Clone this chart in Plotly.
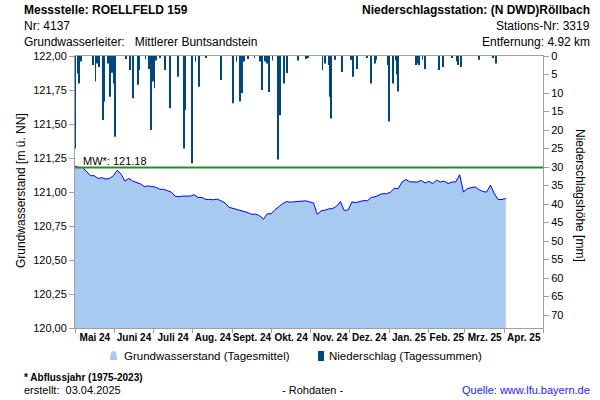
import pandas as pd
import plotly.graph_objects as go

# Grundwasserstand, 3-Tages-Werte ab 01.05.2024 [m ü. NN]
gw_start = "2024-05-01"
gw_level = [
    121.19, 121.18, 121.18, 121.15, 121.12, 121.12, 121.10, 121.105, 121.095, 121.10,
    121.12, 121.16, 121.13, 121.08, 121.10, 121.08, 121.07, 121.06, 121.04, 121.045,
    121.04, 121.035, 121.02, 121.02, 121.01, 121.00, 120.97, 120.965, 120.97, 120.97,
    120.97, 120.98, 120.96, 120.96, 120.945, 120.945, 120.943, 120.948, 120.935, 120.92,
    120.888, 120.88, 120.868, 120.86, 120.857, 120.848, 120.835, 120.838, 120.825, 120.80,
    120.84, 120.84, 120.87, 120.895, 120.915, 120.93, 120.925, 120.928, 120.932, 120.933,
    120.935, 120.927, 120.92, 120.835, 120.862, 120.866, 120.876, 120.878, 120.895, 120.93,
    120.864, 120.868, 120.927, 120.922, 120.93, 120.937, 120.935, 120.96, 120.965, 120.98,
    120.989, 120.987, 120.999, 121.027, 121.024, 121.073, 121.092, 121.075, 121.073, 121.073,
    121.085, 121.066, 121.078, 121.062, 121.087, 121.073, 121.08, 121.062, 121.073, 121.075,
    121.127, 121.00, 121.025, 121.031, 121.038, 121.018, 121.004, 120.999, 121.05, 120.989,
    120.945, 120.945, 120.952,
]

# Niederschlag (Tagessummen) [mm]
rain_dates = [
    "2024-05-01", "2024-05-03", "2024-05-04", "2024-05-06", "2024-05-15", "2024-05-17",
    "2024-05-18", "2024-05-20", "2024-05-23", "2024-05-24", "2024-05-27", "2024-05-28",
    "2024-05-30", "2024-05-31", "2024-06-01", "2024-06-10", "2024-06-13", "2024-06-15",
    "2024-06-19", "2024-06-20", "2024-06-25", "2024-06-28", "2024-06-29", "2024-07-01",
    "2024-07-02", "2024-07-03", "2024-07-06", "2024-07-10", "2024-07-14", "2024-07-20",
    "2024-07-25", "2024-07-26", "2024-07-31", "2024-08-03", "2024-08-06", "2024-08-11",
    "2024-08-23", "2024-09-01", "2024-09-04", "2024-09-07", "2024-09-08", "2024-09-10",
    "2024-09-13", "2024-09-18", "2024-09-22", "2024-09-24", "2024-09-26", "2024-09-28",
    "2024-09-29", "2024-10-02", "2024-10-06", "2024-10-07", "2024-10-08", "2024-10-11",
    "2024-10-13", "2024-10-22", "2024-10-28", "2024-10-30", "2024-11-10", "2024-11-12",
    "2024-11-15", "2024-11-16", "2024-11-17", "2024-11-20", "2024-11-25", "2024-12-02",
    "2024-12-03", "2024-12-04", "2024-12-07", "2024-12-15", "2024-12-18", "2024-12-21",
    "2024-12-22", "2024-12-31", "2025-01-01", "2025-01-04", "2025-01-06", "2025-01-07",
    "2025-01-08", "2025-01-22", "2025-01-23", "2025-01-24", "2025-01-27", "2025-01-29",
    "2025-02-09", "2025-02-12", "2025-02-19", "2025-02-23", "2025-02-24", "2025-02-26",
    "2025-03-12", "2025-03-23", "2025-03-25",
]
rain_mm = [
    25, 4.7, 7.4, 1.5, 2.4, 6.9,
    2, 3, 17.3, 12.3, 2, 11,
    4.5, 7.4, 21.8, 0.8, 3.8, 11.4,
    7.8, 3.8, 0.8, 3.5, 20, 6.9,
    8.7, 1.2, 0.5, 3.8, 14.1, 5.6,
    25, 14.6, 29, 1.5, 8.3, 0.5,
    6.5, 12.8, 1.5, 12.3, 10, 1.5,
    0.8, 0.5, 1.5, 9.2, 1.5, 2,
    9.7, 1.2, 28, 9.5, 16, 7.4,
    4.6, 1.2, 0.8, 0.5, 3.8, 2,
    2.4, 11, 16.9, 1, 4.3, 1,
    1, 5.6, 3.5, 0.5, 7.4, 2,
    1, 2.4, 17.7, 7.4, 1.2, 5,
    9.6, 2.4, 2, 2.4, 1, 3.5,
    3.8, 3, 0.5, 1.5, 2.4, 3,
    1, 0.5, 2,
]

mw_level = 121.18
month_labels = ["Mai 24", "Juni 24", "Juli 24", "Aug. 24", "Sept. 24", "Okt. 24",
                "Nov. 24", "Dez. 24", "Jan. 25", "Feb. 25", "Mrz. 25", "Apr. 25"]

FONT = "Liberation Sans, Arial, sans-serif"
GREY = "#a0a0a0"
GW_FILL = "#a6caf0"
RAIN_COLOR = "#00467f"

gw_dates = pd.date_range(gw_start, periods=len(gw_level), freq="3D")
month_starts = pd.date_range("2024-05-01", "2025-05-01", freq="MS")
month_mids = month_starts[:-1] + (month_starts[1:] - month_starts[:-1]) / 2

fig = go.Figure()
fig.add_trace(go.Scatter(
    x=gw_dates, y=gw_level, name="Grundwasserstand (Tagesmittel)",
    mode="lines", fill="tozeroy", fillcolor=GW_FILL,
    line=dict(color="#0000ff", width=1),
))
fig.add_trace(go.Bar(
    x=pd.to_datetime(rain_dates), y=rain_mm, name="Niederschlag (Tagessummen)",
    yaxis="y2", marker=dict(color=RAIN_COLOR, line=dict(width=0)),
    width=0.7 * 86400000,
))

# Mittelwasser-Linie
fig.add_shape(type="line", xref="paper", x0=0, x1=1, yref="y", y0=mw_level, y1=mw_level,
              line=dict(color="#2a8a2a", width=2), layer="above")


# pixel -> paper (Plotbereich 75..543 x 56..328)
def px(x):
    return (x - 75) / 468


def py(y):
    return (328 - y) / 272


notes = [
    ("Messstelle: ROELLFELD 159", 22, 10, "left", 12, True, "#000"),
    ("Nr: 4137", 22, 26, "left", 12, False, "#000"),
    ("Grundwasserleiter:\u00a0\u00a0\u00a0Mittlerer Buntsandstein", 22, 42, "left", 12, False, "#000"),
    ("Niederschlagsstation: (N DWD)Röllbach", 592, 10, "right", 12, True, "#000"),
    ("Stations-Nr: 3319", 592, 26, "right", 12, False, "#000"),
    ("Entfernung: 4.92 km", 592, 42, "right", 12, False, "#000"),
    ("* Abflussjahr (1975-2023)", 22, 377, "left", 10, True, "#000"),
    ("erstellt:\u00a0\u00a003.04.2025", 22, 390, "left", 11, False, "#000"),
    ("- Rohdaten -", 312, 390, "center", 11, False, "#000"),
    ("Quelle: www.lfu.bayern.de", 592, 390, "right", 11, False, "#1a1aff"),
    # Legende
    ("Grundwasserstand (Tagesmittel)", 122, 356, "left", 11.5, False, "#000"),
    ("Niederschlag (Tagessummen)", 327, 356, "left", 11.5, False, "#000"),
]

for text, x, y, anchor, size, bold, color in notes:
    fig.add_annotation(
        text=f"<b>{text}</b>" if bold else text, xref="paper", yref="paper",
        x=px(x), y=py(y), xanchor=anchor, yanchor="middle", showarrow=False,
        font=dict(size=size, color=color, family=FONT),
    )

# Legendensymbole
fig.add_shape(type="path", xref="paper", yref="paper", line=dict(width=0), fillcolor=GW_FILL,
              path=f"M {px(110)},{py(360)} Q {px(110)},{py(351)} {px(113.5)},{py(351)} "
                   f"Q {px(117)},{py(351)} {px(117)},{py(360)} Z")
fig.add_shape(type="rect", xref="paper", yref="paper", line=dict(width=0), fillcolor=RAIN_COLOR,
              x0=px(318), x1=px(324), y0=py(361), y1=py(351))

fig.add_annotation(text="MW*: 121.18", xref="paper", yref="y", x=px(81), y=mw_level,
                   xanchor="left", yanchor="bottom", showarrow=False, yshift=-1,
                   font=dict(size=11, color="#000", family=FONT))
fig.add_annotation(text="Grundwasserstand [m ü. NN]", xref="paper", yref="paper",
                   x=px(21), y=py(191), xanchor="center", yanchor="middle",
                   textangle=-90, showarrow=False,
                   font=dict(size=12, color="#000", family=FONT))
fig.add_annotation(text="Niederschlagshöhe [mm]", xref="paper", yref="paper",
                   x=px(580), y=py(195), xanchor="center", yanchor="middle",
                   textangle=90, showarrow=False,
                   font=dict(size=12, color="#000", family=FONT))

fig.update_layout(
    width=600, height=400,
    margin=dict(l=75, r=57, t=56, b=72, autoexpand=False),
    paper_bgcolor="white", plot_bgcolor="white",
    font=dict(family=FONT, size=11, color="#000"),
    separators=",.",
    hovermode=False,
    showlegend=False,
    xaxis=dict(
        type="date", range=["2024-05-01", "2025-05-01"],
        tickmode="array", tickvals=month_mids, ticktext=[f"<b>{m}</b>" for m in month_labels],
        tickangle=0, ticks="", tickfont=dict(size=10), showgrid=False, zeroline=False,
        showline=True, linecolor=GREY, mirror=True, automargin=False,
        minor=dict(tickmode="array", tickvals=month_starts, ticks="outside",
                   ticklen=4, tickcolor=GREY, showgrid=False),
    ),
    yaxis=dict(
        range=[120, 122], tick0=120, dtick=0.25, tickformat=".2f",
        ticks="outside", ticklen=5, tickcolor=GREY, automargin=False,
        showline=True, linecolor=GREY, showgrid=False, zeroline=False,
    ),
    yaxis2=dict(
        overlaying="y", side="right", range=[73.5, 0], tick0=0, dtick=5,
        ticks="outside", ticklen=5, tickcolor=GREY, automargin=False,
        showline=True, linecolor=GREY, showgrid=False, zeroline=False,
    ),
)

# Browser-Standardrand der Seite entfernen, damit das Bild bei (0, 0) beginnt
fig.write_html("out.html", config={"displayModeBar": False},
               post_script="document.body.style.margin = '0';")
